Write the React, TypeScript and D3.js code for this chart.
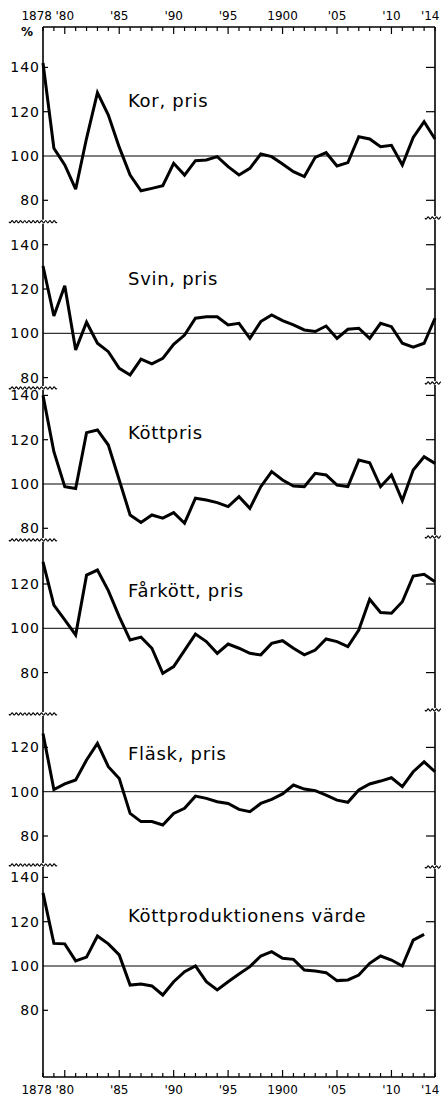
import React from 'react';
import * as d3 from 'd3';

// ---- data ----
const years = [1878, 1879, 1880, 1881, 1882, 1883, 1884, 1885, 1886, 1887, 1888, 1889, 1890, 1891, 1892, 1893, 1894, 1895, 1896, 1897, 1898, 1899, 1900, 1901, 1902, 1903, 1904, 1905, 1906, 1907, 1908, 1909, 1910, 1911, 1912, 1913, 1914];

const korPris = [142, 103.5, 96, 85, 108, 128.6, 118.5, 104, 91.4, 84.3, 85.4, 86.6, 96.7, 91.4, 97.9, 98.2, 99.7, 95.2, 91.4, 94.4, 100.9, 99.7, 96.4, 92.9, 90.7, 99.4, 101.5, 95.5, 97, 108.7, 107.7, 104.2, 104.8, 95.9, 108.4, 115.5, 107.7];
const svinPris = [130.4, 107.8, 121.5, 92.5, 105, 95.5, 91.7, 84.2, 81.2, 88.3, 86.2, 88.7, 95, 99.2, 106.8, 107.5, 107.5, 103.8, 104.5, 97.7, 105.3, 108.3, 105.7, 103.8, 101.5, 100.8, 103.3, 97.7, 101.8, 102.3, 97.7, 104.5, 103, 95.5, 93.7, 95.5, 106.8];
const kottPris = [140, 114.6, 98.8, 98, 123.2, 124.4, 117.6, 101.8, 86, 82.6, 86, 84.6, 87.1, 82.3, 93.6, 92.8, 91.6, 89.8, 94.3, 89, 98.8, 105.6, 101.8, 99.1, 98.8, 104.8, 104.1, 99.5, 98.8, 110.8, 109.6, 98.8, 104.1, 92.5, 106.3, 112.3, 109.3];
const farkottPris = [130, 110.5, 103.8, 97, 124, 126.3, 117, 105.3, 94.7, 96, 91, 79.7, 82.7, 90, 97.4, 94, 88.7, 92.9, 91, 88.7, 88, 93.2, 94.4, 91, 88, 90.2, 95.2, 94, 91.7, 99.2, 113.1, 107.1, 106.8, 112, 123.6, 124.4, 121];
const flaskPris = [126.3, 101, 103.5, 105.3, 114.3, 121.8, 111.3, 106, 90.2, 86.5, 86.5, 85, 90.2, 92.5, 98, 97, 95.5, 94.7, 92, 91, 94.7, 96.5, 99, 103, 101.2, 100.5, 98.5, 96.2, 95.2, 100.8, 103.5, 104.8, 106.3, 102.3, 109, 113.5, 109];
const kottprodVarde = [133, 110.2, 110, 102.3, 104, 113.5, 110, 105, 91.4, 91.9, 91, 86.9, 92.9, 97.4, 100, 92.9, 89.2, 92.9, 96.4, 99.7, 104.5, 106.5, 103.5, 103, 98.2, 97.7, 97, 93.4, 93.7, 95.9, 101.2, 104.5, 102.7, 100, 111.7, 114.3];

const panelTitles = ['Kor, pris', 'Svin, pris', 'Köttpris', 'Fårkött, pris', 'Fläsk, pris', 'Köttproduktionens värde'];
const panelSeries = [korPris, svinPris, kottPris, farkottPris, flaskPris, kottprodVarde];
const panelTickValues = [
  [140, 120, 100, 80],
  [140, 120, 100, 80],
  [140, 120, 100, 80],
  [120, 100, 80],
  [120, 100, 80],
  [140, 120, 100, 80],
];
const xLabelYears = [1878, 1880, 1885, 1890, 1895, 1900, 1905, 1910, 1914];
const xLabelTexts = ['1878', "'80", "'85", "'90", "'95", '1900', "'05", "'10", "'14"];

// ---- layout ----
const W = 441;
const H = 1099;
const X0 = 43;
const X1 = 435;
const TOP = 27;
const BOTTOM = 1077;
const PX_PER_UNIT = 2.215;
const panelBaseY = [156, 333.3, 484, 628.3, 791.7, 966];
const breaksLeft = [221.7, 388, 540, 714, 865];
const breaksRight = [218, 383, 537, 710, 867];
const titleBaseline = [107, 285, 439, 597, 760, 922];
const FONT = "'DejaVu Sans', sans-serif";

const x = d3.scaleLinear().domain([1878, 1914]).range([X0, X1]);
const yFor = (i: number) =>
  d3.scaleLinear().domain([100, 140]).range([panelBaseY[i], panelBaseY[i] - 40 * PX_PER_UNIT]);

function squiggle(xa: number, xb: number, y: number) {
  const pts = d3.range(xa, xb + 0.01, 0.5).map((px) => [px, y + 1.1 * Math.sin(((px - xa) / 4.2) * 2 * Math.PI)] as [number, number]);
  return d3.line()(pts) || '';
}

export default function App() {
  const tickYears = d3.range(1878, 1915);
  return (
    <svg width={W} height={H} style={{ position: 'absolute', left: 0, top: 0, background: '#fff' }}>
      <rect x={0} y={0} width={W} height={H} fill="#fff" />
      {/* frame */}
      <line x1={X0} x2={X0} y1={TOP} y2={BOTTOM} stroke="#000" strokeWidth={1.6} />
      <line x1={X1} x2={X1} y1={TOP} y2={BOTTOM} stroke="#000" strokeWidth={1.6} />
      <line x1={X0} x2={X1} y1={TOP} y2={TOP} stroke="#000" strokeWidth={1.6} />
      <line x1={X0} x2={X1} y1={BOTTOM} y2={BOTTOM} stroke="#000" strokeWidth={1.6} />
      {/* year ticks */}
      {tickYears.map((yr) => {
        const len = yr % 5 === 0 ? 7 : 4;
        return (
          <g key={yr}>
            <line x1={x(yr)} x2={x(yr)} y1={TOP} y2={TOP + len} stroke="#000" strokeWidth={1.2} />
            <line x1={x(yr)} x2={x(yr)} y1={BOTTOM} y2={BOTTOM - len} stroke="#000" strokeWidth={1.2} />
          </g>
        );
      })}
      {/* year labels */}
      {xLabelYears.map((yr, i) => {
        const first = i === 0;
        const last = i === xLabelYears.length - 1;
        const anchor = first || last ? 'end' : 'middle';
        const xp = first ? x(yr) + 9 : last ? W - 1.5 : x(yr);
        return (
          <g key={yr} fontFamily={FONT} fontSize={12} fill="#000">
            <text x={xp} y={20} textAnchor={anchor}>{xLabelTexts[i]}</text>
            <text x={xp} y={1094} textAnchor={anchor}>{xLabelTexts[i]}</text>
          </g>
        );
      })}
      <text x={21} y={36} fontFamily={FONT} fontSize={12} fontWeight="bold">%</text>
      {/* panels */}
      {panelSeries.map((series, i) => {
        const y = yFor(i);
        const line = d3
          .line<number>()
          .x((_, j) => x(years[j]))
          .y((d) => y(d));
        return (
          <g key={i}>
            <line x1={X0} x2={X1} y1={y(100)} y2={y(100)} stroke="#000" strokeWidth={1} />
            {panelTickValues[i].map((v) => (
              <g key={v}>
                {v !== 100 && (
                  <>
                    <line x1={X0} x2={X0 + 5} y1={y(v)} y2={y(v)} stroke="#000" strokeWidth={1.2} />
                    <line x1={X1 - 9} x2={X1} y1={y(v)} y2={y(v)} stroke="#000" strokeWidth={1.2} />
                  </>
                )}
                <text x={40} y={y(v)} dy="0.36em" textAnchor="end" fontFamily={FONT} fontSize={14} letterSpacing={1}>
                  {v}
                </text>
              </g>
            ))}
            <path d={line(series) || ''} fill="none" stroke="#000" strokeWidth={3} strokeLinejoin="miter" strokeMiterlimit={3} />
            <text x={128} y={titleBaseline[i]} fontFamily={FONT} fontSize={18} letterSpacing={0.7}>
              {panelTitles[i]}
            </text>
          </g>
        );
      })}
      {/* axis breaks */}
      {breaksLeft.map((b, i) => (
        <g key={i}>
          <rect x={X0 - 1.5} y={b - 2} width={3} height={4} fill="#fff" />
          <path d={squiggle(9, 57, b)} fill="none" stroke="#000" strokeWidth={1.1} />
          <rect x={X1 - 1.5} y={breaksRight[i] - 2} width={3} height={4} fill="#fff" />
          <path d={squiggle(425, 441, breaksRight[i])} fill="none" stroke="#000" strokeWidth={1.1} />
        </g>
      ))}
    </svg>
  );
}
